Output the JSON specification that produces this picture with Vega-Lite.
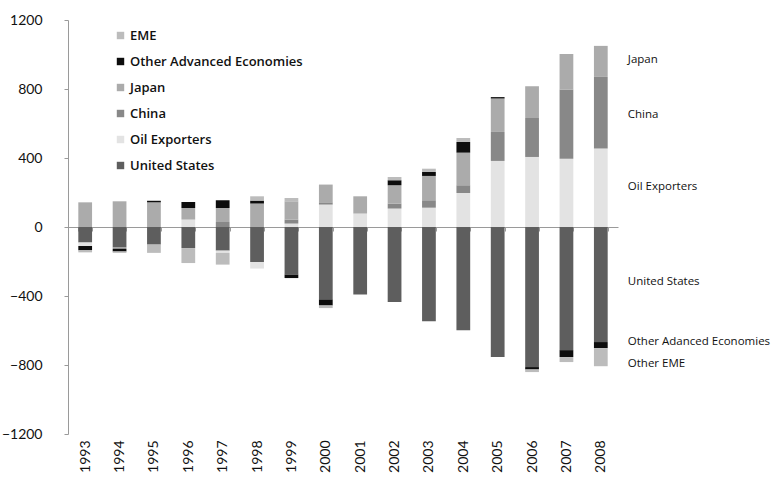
{
  "$schema": "https://vega.github.io/schema/vega-lite/v6.json",
  "width": 550,
  "height": 414,
  "autosize": {"type": "none"},
  "padding": {"left": 68, "top": 20, "right": 159, "bottom": 49},
  "background": "white",
  "config": {
    "view": {"stroke": null},
    "font": "Lato",
    "axis": {"labelFont": "Lato", "labelColor": "#111111", "domainColor": "#9a9a9a", "tickColor": "#9a9a9a", "grid": false, "title": null}
  },
  "datasets": {
    "bars": [
      {"year": "1993", "series": "Japan", "value": 143},
      {"year": "1993", "series": "United States", "value": -90},
      {"year": "1993", "series": "Oil Exporters", "value": -20},
      {"year": "1993", "series": "Other Advanced Economies", "value": -25},
      {"year": "1993", "series": "EME", "value": -12},
      {"year": "1994", "series": "Japan", "value": 149},
      {"year": "1994", "series": "United States", "value": -120},
      {"year": "1994", "series": "Oil Exporters", "value": -5},
      {"year": "1994", "series": "Other Advanced Economies", "value": -17},
      {"year": "1994", "series": "EME", "value": -8},
      {"year": "1995", "series": "Japan", "value": 143},
      {"year": "1995", "series": "Other Advanced Economies", "value": 9},
      {"year": "1995", "series": "United States", "value": -102},
      {"year": "1995", "series": "EME", "value": -48},
      {"year": "1996", "series": "Oil Exporters", "value": 43},
      {"year": "1996", "series": "Japan", "value": 67},
      {"year": "1996", "series": "Other Advanced Economies", "value": 35},
      {"year": "1996", "series": "United States", "value": -122},
      {"year": "1996", "series": "EME", "value": -87},
      {"year": "1997", "series": "China", "value": 29},
      {"year": "1997", "series": "Japan", "value": 81},
      {"year": "1997", "series": "Other Advanced Economies", "value": 45},
      {"year": "1997", "series": "United States", "value": -137},
      {"year": "1997", "series": "Oil Exporters", "value": -13},
      {"year": "1997", "series": "EME", "value": -68},
      {"year": "1998", "series": "Japan", "value": 136},
      {"year": "1998", "series": "Other Advanced Economies", "value": 17},
      {"year": "1998", "series": "EME", "value": 25},
      {"year": "1998", "series": "United States", "value": -203},
      {"year": "1998", "series": "Oil Exporters", "value": -38},
      {"year": "1999", "series": "Oil Exporters", "value": 20},
      {"year": "1999", "series": "China", "value": 23},
      {"year": "1999", "series": "Japan", "value": 106},
      {"year": "1999", "series": "EME", "value": 19},
      {"year": "1999", "series": "United States", "value": -276},
      {"year": "1999", "series": "Other Advanced Economies", "value": -20},
      {"year": "2000", "series": "Oil Exporters", "value": 130},
      {"year": "2000", "series": "China", "value": 13},
      {"year": "2000", "series": "Japan", "value": 103},
      {"year": "2000", "series": "United States", "value": -420},
      {"year": "2000", "series": "Other Advanced Economies", "value": -35},
      {"year": "2000", "series": "EME", "value": -15},
      {"year": "2001", "series": "Oil Exporters", "value": 78},
      {"year": "2001", "series": "Japan", "value": 100},
      {"year": "2001", "series": "United States", "value": -392},
      {"year": "2002", "series": "Oil Exporters", "value": 107},
      {"year": "2002", "series": "China", "value": 29},
      {"year": "2002", "series": "Japan", "value": 106},
      {"year": "2002", "series": "Other Advanced Economies", "value": 29},
      {"year": "2002", "series": "EME", "value": 19},
      {"year": "2002", "series": "United States", "value": -435},
      {"year": "2003", "series": "Oil Exporters", "value": 112},
      {"year": "2003", "series": "China", "value": 43},
      {"year": "2003", "series": "Japan", "value": 141},
      {"year": "2003", "series": "Other Advanced Economies", "value": 23},
      {"year": "2003", "series": "EME", "value": 19},
      {"year": "2003", "series": "United States", "value": -547},
      {"year": "2004", "series": "Oil Exporters", "value": 197},
      {"year": "2004", "series": "China", "value": 45},
      {"year": "2004", "series": "Japan", "value": 189},
      {"year": "2004", "series": "Other Advanced Economies", "value": 62},
      {"year": "2004", "series": "EME", "value": 23},
      {"year": "2004", "series": "United States", "value": -599},
      {"year": "2005", "series": "Oil Exporters", "value": 383},
      {"year": "2005", "series": "China", "value": 168},
      {"year": "2005", "series": "Japan", "value": 194},
      {"year": "2005", "series": "Other Advanced Economies", "value": 8},
      {"year": "2005", "series": "United States", "value": -754},
      {"year": "2006", "series": "Oil Exporters", "value": 406},
      {"year": "2006", "series": "China", "value": 226},
      {"year": "2006", "series": "Japan", "value": 184},
      {"year": "2006", "series": "United States", "value": -812},
      {"year": "2006", "series": "Other Advanced Economies", "value": -14},
      {"year": "2006", "series": "EME", "value": -15},
      {"year": "2007", "series": "Oil Exporters", "value": 396},
      {"year": "2007", "series": "China", "value": 401},
      {"year": "2007", "series": "Japan", "value": 206},
      {"year": "2007", "series": "United States", "value": -714},
      {"year": "2007", "series": "Other Advanced Economies", "value": -40},
      {"year": "2007", "series": "EME", "value": -29},
      {"year": "2008", "series": "Oil Exporters", "value": 455},
      {"year": "2008", "series": "China", "value": 415},
      {"year": "2008", "series": "Japan", "value": 180},
      {"year": "2008", "series": "United States", "value": -667},
      {"year": "2008", "series": "Other Advanced Economies", "value": -35},
      {"year": "2008", "series": "EME", "value": -105}
    ],
    "labels": [
      {"year": "2008", "label": "Japan", "value": 968},
      {"year": "2008", "label": "China", "value": 650},
      {"year": "2008", "label": "Oil Exporters", "value": 232},
      {"year": "2008", "label": "United States", "value": -319},
      {"year": "2008", "label": "Other Adanced Economies", "value": -667},
      {"year": "2008", "label": "Other EME", "value": -794}
    ]
  },
  "layer": [
    {
      "data": {"name": "bars"},
      "transform": [
        {"calculate": "indexof(['United States', 'Oil Exporters', 'China', 'Japan', 'Other Advanced Economies', 'EME'], datum.series)", "as": "stackOrder"}
      ],
      "mark": {"type": "bar"},
      "encoding": {
        "x": {
          "field": "year", "type": "ordinal",
          "scale": {"paddingInner": 0.6, "paddingOuter": 0.3},
          "axis": {"orient": "bottom", "offset": -207, "domain": true, "ticks": true, "tickBand": "extent", "tickSize": 4, "labelAngle": -90, "labelFontSize": 14, "labelPadding": 209, "labelAlign": "right", "labelBaseline": "middle"}
        },
        "y": {
          "field": "value", "type": "quantitative", "stack": "zero",
          "scale": {"domain": [-1200, 1200], "nice": false, "zero": false},
          "axis": {"values": [-1200, -800, -400, 0, 400, 800, 1200], "format": "d", "labelFontSize": 14, "tickSize": 4, "labelPadding": 22, "domainWidth": 1}
        },
        "order": {"field": "stackOrder", "sort": "ascending"},
        "color": {
          "field": "series", "type": "nominal",
          "scale": {
            "domain": ["EME", "Other Advanced Economies", "Japan", "China", "Oil Exporters", "United States"],
            "range": ["#bcbcbc", "#0d0d0d", "#ababab", "#888888", "#e3e3e3", "#5e5e5e"]
          },
          "legend": {
            "orient": "none", "legendX": 46, "legendY": 9, "title": null,
            "symbolType": "square", "symbolSize": 55, "symbolStrokeWidth": 0,
            "labelFontSize": 13, "labelFont": "Open Sans", "labelFontWeight": 600, "labelColor": "#111111",
            "labelLimit": 400, "rowPadding": 12, "labelOffset": 3
          }
        }
      }
    },
    {
      "data": {"name": "labels"},
      "mark": {"type": "text", "align": "left", "baseline": "middle", "dx": 27, "fontSize": 11.5, "font": "Open Sans", "fontWeight": 500, "color": "#111111"},
      "encoding": {
        "x": {"field": "year", "type": "ordinal"},
        "y": {"field": "value", "type": "quantitative"},
        "text": {"field": "label"}
      }
    }
  ]
}
